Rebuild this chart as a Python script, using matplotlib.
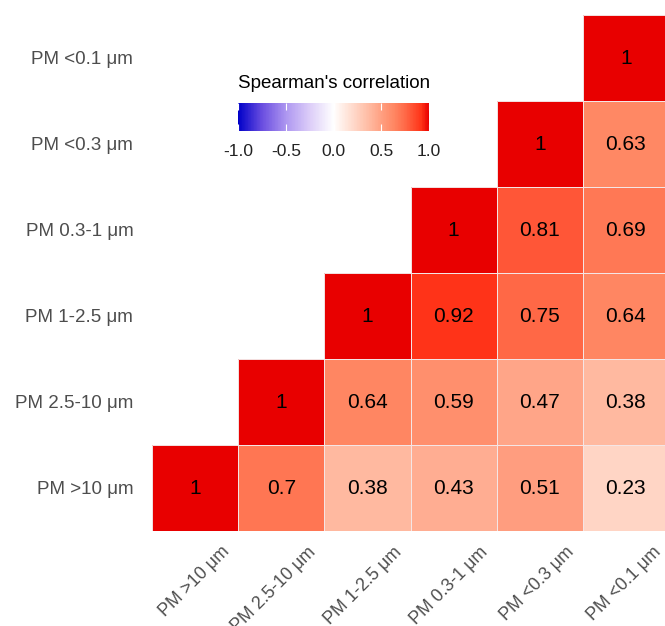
import matplotlib.pyplot as plt
import numpy as np
from matplotlib.colors import LinearSegmentedColormap
from matplotlib.patches import Rectangle
from matplotlib.transforms import ScaledTranslation

plt.rcParams['font.family'] = ['Liberation Sans', 'DejaVu Sans']

labels = ['PM >10 \u03bcm', 'PM 2.5-10 \u03bcm', 'PM 1-2.5 \u03bcm',
          'PM 0.3-1 \u03bcm', 'PM <0.3 \u03bcm', 'PM <0.1 \u03bcm']

# upper triangle rows, from PM >10 upwards (diagonal first)
row_pm10 = [1, 0.7, 0.38, 0.43, 0.51, 0.23]
row_pm2510 = [1, 0.64, 0.59, 0.47, 0.38]
row_pm125 = [1, 0.92, 0.75, 0.64]
row_pm031 = [1, 0.81, 0.69]
row_pm03 = [1, 0.63]
row_pm01 = [1]

rows = [row_pm10, row_pm2510, row_pm125, row_pm031, row_pm03, row_pm01]
n = len(labels)
corr = np.full((n, n), np.nan)
for i, r in enumerate(rows):
    for k, v in enumerate(r):
        corr[i, i + k] = v

cmap = LinearSegmentedColormap.from_list('spear', [
    (0.0, '#0000c8'), (0.125, '#6a4ee0'), (0.25, '#ad96f0'), (0.375, '#dccdf8'),
    (0.5, '#ffffff'), (0.615, '#ffd5c5'), (0.69, '#ffb9a0'), (0.75, '#ffa082'),
    (0.82, '#ff8662'), (0.875, '#ff6a48'), (0.96, '#ff3418'), (1.0, '#e80000')])

W, H = 665, 626
fig = plt.figure(figsize=(W / 100, H / 100), dpi=100)
ax = fig.add_axes([152 / W, (H - 531) / H, (669 - 152) / W, (531 - 15) / H])

mesh = ax.pcolormesh(np.arange(n + 1), np.arange(n + 1), np.ma.masked_invalid(corr),
                     cmap=cmap, vmin=-1, vmax=1)
for i in range(n):
    for j in range(n):
        if not np.isnan(corr[i, j]):
            ax.add_patch(Rectangle((j, i), 1, 1, fill=False, edgecolor='#f4e6e6',
                                   linewidth=0.7))
            ax.text(j + 0.5, i + 0.5, f'{corr[i, j]:g}', ha='center', va='center',
                    fontsize=15, color='black')

ax.set_xlim(0, n)
ax.set_ylim(0, n)
ax.set_xticks(np.arange(n) + 0.5)
ax.set_yticks(np.arange(n) + 0.5)
ax.set_xticklabels(labels, rotation=45, ha='right', va='top', rotation_mode='anchor',
                   fontsize=12.8, color='#4d4d4d')
ax.set_yticklabels(labels, fontsize=13.5, color='#4d4d4d')
ax.tick_params(length=0, pad=13.5)
ax.tick_params(axis='x', pad=9)
shift = ScaledTranslation(26 / 100, 0, fig.dpi_scale_trans)
for t in ax.get_xticklabels():
    t.set_transform(t.get_transform() + shift)
for s in ax.spines.values():
    s.set_visible(False)

cax = fig.add_axes([238 / W, (H - 131) / H, (429 - 238) / W, 28 / H])
cb = fig.colorbar(mesh, cax=cax, orientation='horizontal')
cb.outline.set_visible(False)
cb.set_ticks([-1.0, -0.5, 0.0, 0.5, 1.0])
cb.set_ticklabels(['-1.0', '-0.5', '0.0', '0.5', '1.0'])
cax.tick_params(direction='in', color='white', length=5, labelsize=12.5,
                labelcolor='#222222', pad=9, top=True)
fig.text(238 / W, 1 - 83 / H, "Spearman's correlation", fontsize=13.5,
         ha='left', va='center', color='black')

fig.savefig('out.png', dpi=100)
